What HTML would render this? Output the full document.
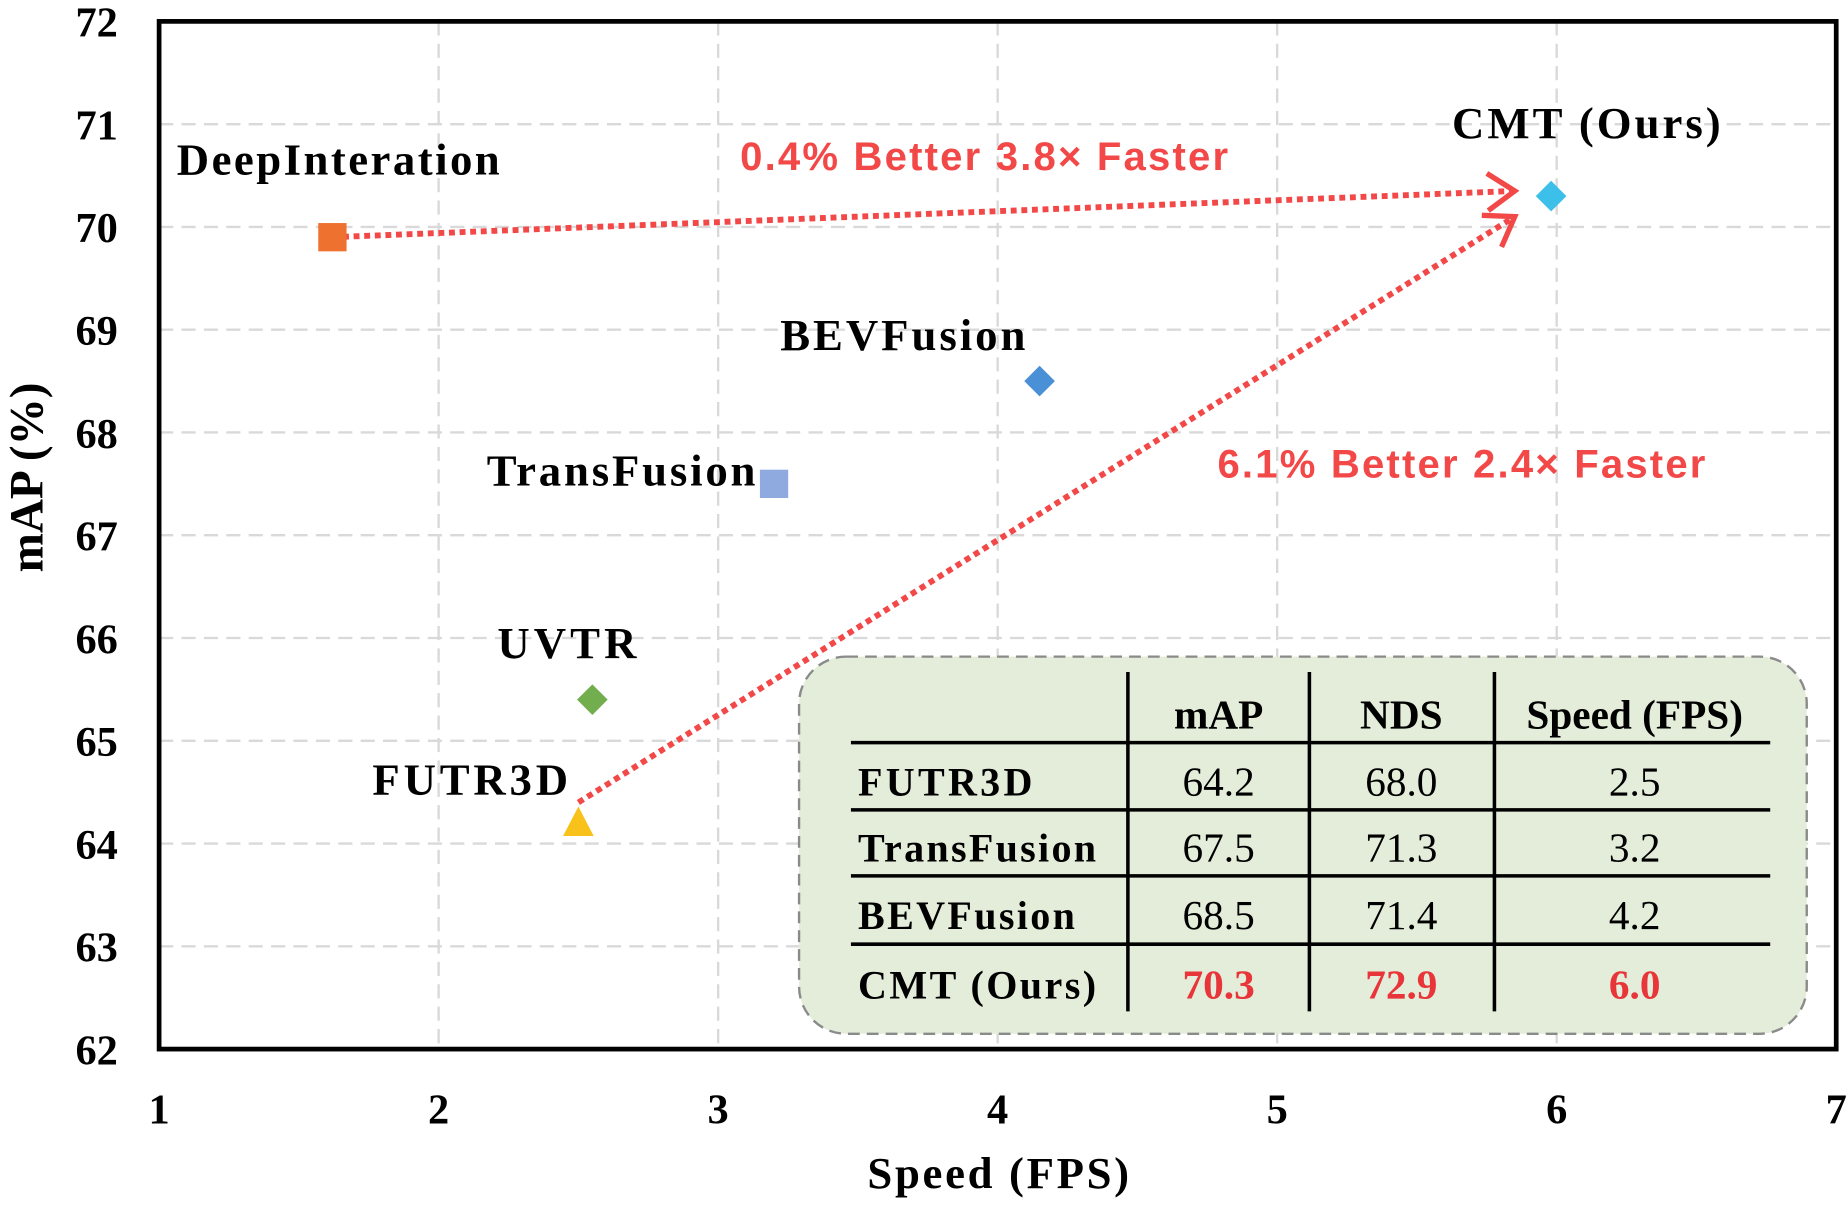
<!DOCTYPE html>
<html><head><meta charset="utf-8"><style>
html,body{margin:0;padding:0;background:#fff;}
svg{display:block;}
</style></head><body>
<svg id="chart" width="1848" height="1206" viewBox="0 0 1568 1023" xmlns="http://www.w3.org/2000/svg" font-family="'Liberation Serif', serif"></svg>
<script>
const methods = ["DeepInteration","CMT (Ours)","BEVFusion","TransFusion","UVTR","FUTR3D"];
const speeds = [1.62, 5.98, 4.15, 3.2, 2.55, 2.5];
const maps = [69.9, 70.3, 68.5, 67.5, 65.4, 64.2];
const shapes = ["square","diamond","diamond","square","diamond","triangle"];
const colors = ["#ee7130","#3cc0ea","#4a90d6","#8eaadf","#72ad4e","#f8c21a"];
const xTicks = [1,2,3,4,5,6,7];
const yTicks = [62,63,64,65,66,67,68,69,70,71,72];
const tableHeader = ["mAP","NDS","Speed (FPS)"];
const tableRows = ["FUTR3D","TransFusion","BEVFusion","CMT (Ours)"];
const tableMap = ["64.2","67.5","68.5","70.3"];
const tableNds = ["68.0","71.3","71.4","72.9"];
const tableFps = ["2.5","3.2","4.2","6.0"];

const L=135,R=1558,T=18,B=890;
const xs=v=>L+(v-1)/6*(R-L);
const ys=v=>B-(v-62)/10*(B-T);
const svg=document.getElementById('chart');
const NS="http://www.w3.org/2000/svg";
function mk(tag,attrs,parent){const e=document.createElementNS(NS,tag);for(const k in attrs)e.setAttribute(k,attrs[k]);(parent||svg).appendChild(e);return e;}
function txt(s,attrs,parent){const e=mk('text',attrs,parent);e.textContent=s;return e;}

xTicks.forEach(t=>{if(t>1&&t<7){const g=mk('line',{x1:xs(t),x2:xs(t),y1:T,y2:B,stroke:'#d9d9d9','stroke-width':2,'stroke-dasharray':'12,7'});

}});
yTicks.forEach(t=>{if(t>62&&t<72){const g=mk('line',{x1:L,x2:R,y1:ys(t),y2:ys(t),stroke:'#d9d9d9','stroke-width':2,'stroke-dasharray':'12,7'});

}});
const frame=mk('rect',{x:L,y:T,width:R-L,height:B-T,fill:'none',stroke:'#000','stroke-width':4});



xTicks.forEach(t=>{const e=txt(String(t),{x:xs(t),y:953,'text-anchor':'middle','font-size':36,'font-weight':'bold'});

});
yTicks.forEach(t=>{const e=txt(String(t),{x:100,y:ys(t)+13,'text-anchor':'end','font-size':36,'font-weight':'bold'});

});
const xt=txt('Speed (FPS)',{x:736,y:1008,textLength:222,'font-size':38,'font-weight':'bold'});


const yt=txt('mAP (%)',{x:0,y:0,transform:'translate(36,405) rotate(-90)','text-anchor':'middle','font-size':40,'font-weight':'bold'});



function arrow(x1,y1,x2,y2,name){
 const g=mk('g',{});
 
 
 mk('line',{x1:x1,y1:y1,x2:x2,y2:y2,stroke:'#f24848','stroke-width':5,'stroke-dasharray':'5,4'},g);
 const a=Math.atan2(y2-y1,x2-x1),l=28,s=0.6;
 const p=[[x2-l*Math.cos(a-s),y2-l*Math.sin(a-s)],[x2,y2],[x2-l*Math.cos(a+s),y2-l*Math.sin(a+s)]];
 mk('polyline',{points:p.map(q=>q.join(',')).join(' '),fill:'none',stroke:'#f24848','stroke-width':4.5},g);
}
arrow(xs(speeds[0]),ys(maps[0]),xs(5.85),ys(70.35),'arrow-deepinteraction-to-cmt');
arrow(xs(speeds[5]),ys(64.4),xs(5.85),ys(70.1),'arrow-futr3d-to-cmt');
const a1=txt('0.4% Better 3.8× Faster',{x:628,y:144,textLength:414,'font-family':"'Liberation Sans', 'DejaVu Sans', sans-serif",'font-size':34,'font-weight':'bold',fill:'#f24848'});


const a2=txt('6.1% Better 2.4× Faster',{x:1033,y:405,textLength:414,'font-family':"'Liberation Sans', 'DejaVu Sans', sans-serif",'font-size':34,'font-weight':'bold',fill:'#f24848'});



const labelPos=[[150,148,274],[1232,117,228],[662,297,208],[413,412,228],[422,558,118],[316,674,166]];
methods.forEach((m,i)=>{
 const cx=xs(speeds[i]),cy=ys(maps[i]);let e;
 if(shapes[i]==='square')e=mk('rect',{x:cx-12,y:cy-12,width:24,height:24,fill:colors[i]});
 else if(shapes[i]==='diamond')e=mk('polygon',{points:`${cx},${cy-13} ${cx+13},${cy} ${cx},${cy+13} ${cx-13},${cy}`,fill:colors[i]});
 else e=mk('polygon',{points:`${cx},${cy-14} ${cx+13},${cy+11} ${cx-13},${cy+11}`,fill:colors[i]});
 
 
 const t=txt(m,{x:labelPos[i][0],y:labelPos[i][1],textLength:labelPos[i][2],'font-size':38,'font-weight':'bold'});
 
 
});

const tb=mk('g',{});


mk('rect',{x:678,y:557,width:855,height:320,rx:40,fill:'#e3edd9',stroke:'#8a8a8a','stroke-width':2,'stroke-dasharray':'10,6'},tb);
[957,1111,1268].forEach(x=>mk('line',{x1:x,x2:x,y1:570,y2:858,stroke:'#000','stroke-width':3},tb));
[630,687,743,801].forEach(y=>mk('line',{x1:722,x2:1502,y1:y,y2:y,stroke:'#000','stroke-width':3},tb));
const colX=[1034,1189,1387];
tableHeader.forEach((h,i)=>txt(h,{x:colX[i],y:618,'text-anchor':'middle','font-size':35,'font-weight':'bold'},tb));
const rowY=[675,731,788,847];
const rowW=[148,202,184,202];
tableRows.forEach((r,i)=>{
 const last=i===tableRows.length-1;
 txt(r,{x:728,y:rowY[i],textLength:rowW[i],'font-size':34,'font-weight':'bold'},tb);
 [tableMap[i],tableNds[i],tableFps[i]].forEach((v,j)=>txt(v,{x:colX[j],y:rowY[i],'text-anchor':'middle','font-size':35,'font-weight':last?'bold':'normal',fill:last?'#e8353a':'#000'},tb));
});
</script>
</body></html>
